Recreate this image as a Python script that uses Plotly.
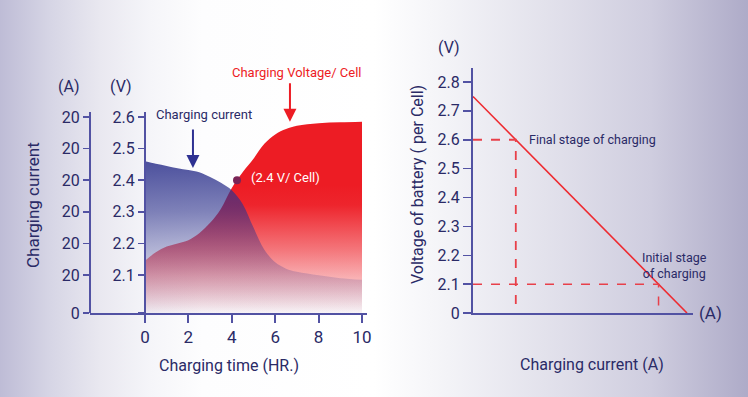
import base64
import plotly.graph_objects as go

# ---------------- data ----------------
# Left chart: charging time (h) vs. curves expressed on the voltage scale
time_hr = [0, 0.5, 1, 1.5, 2, 2.5, 3, 3.5, 4, 4.5, 5, 5.5, 6, 6.5, 7, 8, 9, 10]
current_curve = [2.460, 2.452, 2.445, 2.438, 2.432, 2.425, 2.410, 2.392, 2.368, 2.325,
                 2.250, 2.180, 2.140, 2.120, 2.110, 2.099, 2.090, 2.085]
voltage_curve = [2.145, 2.172, 2.190, 2.200, 2.210, 2.232, 2.265, 2.310, 2.375, 2.425,
                 2.468, 2.515, 2.545, 2.562, 2.572, 2.580, 2.583, 2.585]
marker_time = [4.24]
marker_volt = [2.40]

left_v_ticks = [1.98, 2.1, 2.2, 2.3, 2.4, 2.5, 2.6]
left_v_text = ["", "2.1", "2.2", "2.3", "2.4", "2.5", "2.6"]
left_a_text = ["0", "20", "20", "20", "20", "20", "20"]
time_ticks = [0, 2, 4, 6, 8, 10]

# Right chart: charging current (arbitrary units) vs. battery voltage
cur_line = [0, 10]
volt_line = [2.75, 2.0]
final_cur, final_volt = 2.0, 2.6
init_cur, init_volt = 8.67, 2.1
right_v_ticks = [2.0, 2.1, 2.2, 2.3, 2.4, 2.5, 2.6, 2.7, 2.8]
right_v_text = ["0", "2.1", "2.2", "2.3", "2.4", "2.5", "2.6", "2.7", "2.8"]

# ---------------- style ----------------
W, H = 748, 397
FONT = "Roboto"
NAVY = "#2a2a66"
AXIS = "#5252a3"
RED = "#ed1c24"
ARROW_NAVY = "#2e3192"


def px(x):
    return x / W


def py(y):
    return 1 - y / H


fig = go.Figure()

# red voltage area
fig.add_trace(go.Scatter(
    x=time_hr, y=voltage_curve, mode="lines", line=dict(width=0, shape="spline"),
    fill="tozeroy", xaxis="x", yaxis="y", hoverinfo="skip",
    fillgradient=dict(type="vertical", start=1.98, stop=2.6,
                      colorscale=[[0, "rgba(237,28,36,0.02)"], [0.17, "rgba(237,28,36,0.33)"],
                                  [0.32, "rgba(237,28,36,0.6)"], [0.55, "rgba(237,28,36,0.96)"],
                                  [0.65, "rgba(237,28,36,1)"], [1, "rgba(237,28,36,1)"]])))

# blue current area
fig.add_trace(go.Scatter(
    x=time_hr, y=current_curve, mode="lines", line=dict(width=0, shape="spline"),
    fill="tozeroy", xaxis="x", yaxis="y", hoverinfo="skip",
    fillgradient=dict(type="vertical", start=1.98, stop=2.6,
                      colorscale=[[0, "rgba(45,50,140,0.03)"], [0.19, "rgba(45,50,140,0.18)"],
                                  [0.355, "rgba(45,50,140,0.38)"], [0.516, "rgba(45,50,140,0.6)"],
                                  [0.79, "rgba(45,50,140,0.86)"], [1, "rgba(45,50,140,0.9)"]])))

# 2.4 V marker
fig.add_trace(go.Scatter(x=marker_time, y=marker_volt, mode="markers",
                         marker=dict(size=8, color="#7a2456"), xaxis="x", yaxis="y",
                         hoverinfo="skip"))
# dummy on A axis so it renders
fig.add_trace(go.Scatter(x=[None], y=[None], xaxis="x", yaxis="y2", hoverinfo="skip"))

# right chart line
fig.add_trace(go.Scatter(x=cur_line, y=volt_line, mode="lines", line=dict(color="#ee2a30", width=1.6),
                         xaxis="x2", yaxis="y3", hoverinfo="skip"))
# dashed guides
dash_col = "#e8404a"
fig.add_trace(go.Scatter(x=[0, final_cur, final_cur], y=[final_volt, final_volt, 2.0], mode="lines",
                         line=dict(color=dash_col, width=1.8, dash="dash"),
                         xaxis="x2", yaxis="y3", hoverinfo="skip"))
fig.add_trace(go.Scatter(x=[0, init_cur, init_cur], y=[init_volt, init_volt, 2.0], mode="lines",
                         line=dict(color=dash_col, width=1.5, dash="dash"),
                         xaxis="x2", yaxis="y3", hoverinfo="skip"))

# ---------------- background gradient ----------------
stops = [(0, (190, 188, 214)), (0.067, (214, 213, 229)), (0.134, (233, 232, 240)),
         (0.2, (245, 245, 249)), (0.27, (253, 253, 254)), (0.5, (255, 255, 255)),
         (0.6, (243, 243, 247)), (0.75, (224, 223, 234)), (0.87, (207, 205, 223)),
         (1, (174, 171, 200))]
stop_xml = "".join(f'<stop offset="{o}" stop-color="rgb({c[0]},{c[1]},{c[2]})"/>' for o, c in stops)
svg = (f'<svg xmlns="http://www.w3.org/2000/svg" width="{W}" height="{H}" preserveAspectRatio="none">'
       f'<defs><linearGradient id="g" x1="0" y1="0" x2="1" y2="0">{stop_xml}</linearGradient></defs>'
       f'<rect width="{W}" height="{H}" fill="url(#g)"/></svg>')
src = "data:image/svg+xml;base64," + base64.b64encode(svg.encode()).decode()

# ---------------- layout ----------------
tickfont = dict(family=FONT, size=16, color=NAVY)
ydom_l = [py(313), py(112)]
yrange_l = [2.1 - 38 / 316, 2.6 + 5 / 316]
x_left = -(145 - 90) / 21.7
x_right = (367 - 145) / 21.7

common = dict(showgrid=False, zeroline=False, automargin=False, fixedrange=True)

fig.update_layout(
    template="none",
    width=W, height=H, margin=dict(l=0, r=0, t=0, b=0, pad=0, autoexpand=False),
    paper_bgcolor="white", plot_bgcolor="rgba(0,0,0,0)", showlegend=False,
    font=dict(family=FONT, color=NAVY),
    images=[dict(source=src, xref="paper", yref="paper", x=0, y=1, sizex=1, sizey=1,
                 xanchor="left", yanchor="top", sizing="stretch", layer="below")],
    xaxis=dict(domain=[px(90), px(367)], range=[x_left, x_right], anchor="y",
               tickvals=time_ticks, ticks="outside", ticklen=8, tickwidth=2, tickcolor=AXIS,
               showline=True, linecolor=AXIS, linewidth=2,
               tickfont=dict(family=FONT, size=17, color=NAVY), **common),
    yaxis=dict(domain=ydom_l, range=yrange_l, anchor="free", position=px(145),
               tickvals=left_v_ticks, ticktext=left_v_text, ticks="outside", ticklen=6,
               tickwidth=1.5, tickcolor=AXIS, showline=True, linecolor=AXIS, linewidth=2,
               tickfont=tickfont, **common),
    yaxis2=dict(overlaying="y", range=yrange_l, anchor="free", position=px(90),
                tickvals=left_v_ticks, ticktext=left_a_text, ticks="outside", ticklen=6,
                tickwidth=1.5, tickcolor=AXIS, showline=True, linecolor=AXIS, linewidth=2,
                tickfont=tickfont, **common),
    xaxis2=dict(domain=[px(473), px(693)], range=[0, 220 / 21.4], anchor="y3",
                showticklabels=False, ticks="", showline=True, linecolor=AXIS, linewidth=2,
                **common),
    yaxis3=dict(domain=[py(313), py(68)], range=[2.0, 2.8 + 14 / 288.6], anchor="x2",
                tickvals=right_v_ticks, ticktext=right_v_text, ticks="outside", ticklen=8,
                tickwidth=1.5, tickcolor=AXIS, showline=True, linecolor=AXIS, linewidth=2,
                tickfont=tickfont, **common),
)

ann = []


def text(x, y, s, size=16, color=NAVY, xanchor="center", angle=0, xref="paper", yref="paper"):
    ann.append(dict(x=x, y=y, xref=xref, yref=yref, text=s, showarrow=False,
                    font=dict(family=FONT, size=size, color=color), xanchor=xanchor,
                    yanchor="middle", textangle=angle))


# left chart texts
text(px(68), py(87), "(A)")
text(px(121), py(87), "(V)")
text(px(33), py(205), "Charging current", size=17, angle=-90)
text(px(229), py(365), "Charging time (HR.)", size=16)
text(px(154), py(115), "Charging current", size=13, xanchor="left")
text(px(297), py(72), "Charging Voltage/ Cell", size=13, color=RED)
text(4.79, 2.41, "(2.4 V/ Cell)", size=13, color="white", xanchor="left", xref="x", yref="y")

# arrows
ann.append(dict(x=2.21, y=2.439, xref="x", yref="y", ax=0, ay=-40, text="", showarrow=True,
                arrowhead=2, arrowsize=1.3, arrowwidth=2, arrowcolor=ARROW_NAVY))
ann.append(dict(x=6.68, y=2.585, xref="x", yref="y", ax=0, ay=-40, text="", showarrow=True,
                arrowhead=2, arrowsize=1.3, arrowwidth=2, arrowcolor=RED))

# right chart texts
text(px(449), py(47), "(V)")
text(px(418), py(185), "Voltage of battery ( per Cell)", size=16, angle=-90)
text(px(592), py(364), "Charging current (A)", size=16)
text(px(710), py(313), "(A)", size=17)
text(2.52, 2.6, "Final stage of charging", size=12.5, xanchor="left", xref="x2", yref="y3")
text(7.8, 2.165, "Initial stage<br>of charging", size=12.5, xanchor="left", xref="x2", yref="y3")

fig.update_layout(annotations=ann)
fig.write_html("out.html", config={"displayModeBar": False, "staticPlot": True},
               post_script="document.body.style.margin='0px';")
